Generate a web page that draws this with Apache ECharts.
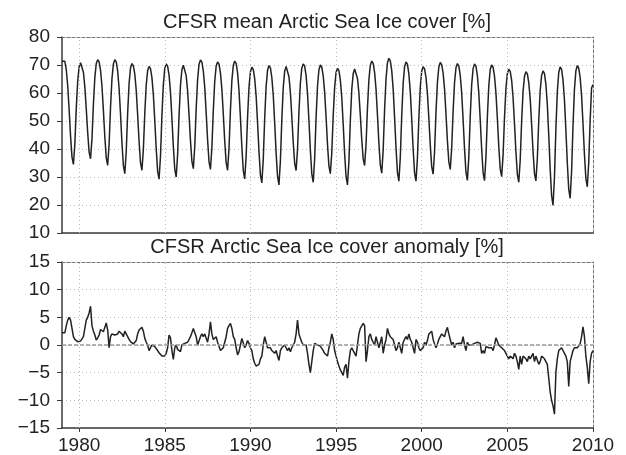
<!DOCTYPE html>
<html>
<head>
<meta charset="utf-8">
<script src="https://cdn.jsdelivr.net/npm/echarts@6/dist/echarts.min.js"></script>
<style>
html,body{margin:0;padding:0;background:#fff;}
#chart{width:626px;height:455px;}
</style>
</head>
<body>
<div id="chart"></div>
<script>
// ---------------- DATA ----------------
const startYear = 1979; // first month = Jan 1979, monthly steps
const topTitle = 'CFSR mean Arctic Sea Ice cover [%]';
const bottomTitle = 'CFSR Arctic Sea Ice cover anomaly [%]';
const xTickLabels = [1980, 1985, 1990, 1995, 2000, 2005, 2010];
const topYTicks = [10, 20, 30, 40, 50, 60, 70, 80];
const bottomYTicks = [-15, -10, -5, 0, 5, 10, 15];

// monthly mean Arctic sea ice cover [%] (Jan 1979 .. Jan 2010)
const iceCover = [
  71.3, 72.0, 71.3, 68.3, 62.6, 54.0, 44.6, 37.1, 34.5, 41.8, 54.5, 64.3, // 1979
  69.3, 70.8, 70.1, 67.4, 62.2, 54.3, 45.8, 38.9, 36.5, 43.6, 56.0, 65.5, // 1980
  70.5, 71.9, 71.1, 68.1, 62.5, 53.8, 44.4, 36.8, 34.2, 41.7, 54.9, 65.1, // 1981
  70.4, 71.9, 71.1, 67.8, 61.7, 52.4, 42.2, 34.1, 31.2, 39.1, 52.8, 63.4, // 1982
  68.9, 70.5, 69.7, 66.7, 61.0, 52.2, 42.7, 35.1, 32.4, 39.8, 52.8, 62.8, // 1983
  68.0, 69.5, 68.7, 65.5, 59.4, 50.2, 40.1, 32.0, 29.2, 37.4, 51.9, 63.0, // 1984
  68.8, 70.4, 69.6, 66.4, 60.3, 51.0, 40.9, 32.8, 30.0, 38.0, 52.0, 62.7, // 1985
  68.3, 69.9, 69.2, 66.2, 60.7, 52.2, 43.0, 35.6, 33.0, 40.8, 54.3, 64.8, // 1986
  70.3, 71.8, 71.0, 67.9, 62.0, 53.0, 43.3, 35.4, 32.7, 40.4, 53.8, 64.2, // 1987
  69.6, 71.1, 70.3, 67.2, 61.4, 52.5, 42.9, 35.1, 32.4, 40.2, 53.9, 64.4, // 1988
  69.8, 71.4, 70.6, 67.2, 60.9, 51.2, 40.7, 32.3, 29.3, 37.3, 51.3, 62.0, // 1989
  67.6, 69.2, 68.4, 65.1, 58.9, 49.4, 39.1, 30.8, 27.9, 36.3, 51.0, 62.3, // 1990
  68.1, 69.8, 69.0, 65.5, 59.2, 49.4, 38.7, 30.2, 27.2, 35.7, 50.5, 61.9, // 1991
  67.8, 69.5, 68.8, 65.8, 60.2, 51.6, 42.3, 34.9, 32.3, 39.9, 53.3, 63.5, // 1992
  68.9, 70.4, 69.6, 66.2, 59.8, 50.1, 39.5, 31.1, 28.1, 36.5, 51.2, 62.5, // 1993
  68.3, 70.0, 69.2, 66.1, 60.3, 51.4, 41.7, 33.9, 31.2, 38.7, 51.9, 62.0, // 1994
  67.3, 68.8, 68.0, 64.6, 58.4, 48.8, 38.4, 30.1, 27.2, 35.5, 50.0, 61.2, // 1995
  66.9, 68.6, 67.9, 65.2, 60.0, 52.0, 43.4, 36.5, 34.1, 41.6, 54.6, 64.7, // 1996
  69.9, 71.4, 70.6, 67.4, 61.4, 52.2, 42.2, 34.2, 31.4, 39.6, 54.0, 65.0, // 1997
  70.8, 72.4, 71.5, 68.0, 61.4, 51.3, 40.4, 31.6, 28.5, 37.0, 51.9, 63.4, // 1998
  69.4, 71.1, 70.3, 66.8, 60.5, 50.7, 40.0, 31.5, 28.5, 36.7, 51.0, 62.0, // 1999
  67.8, 69.4, 68.6, 65.6, 59.8, 51.0, 41.4, 33.7, 31.0, 39.0, 53.0, 63.7, // 2000
  69.3, 70.9, 70.1, 67.1, 61.4, 52.6, 43.0, 35.4, 32.7, 40.3, 53.5, 63.7, // 2001
  69.0, 70.5, 69.7, 66.3, 60.1, 50.5, 40.1, 31.7, 28.8, 37.1, 51.7, 62.9, // 2002
  68.7, 70.4, 69.6, 66.2, 60.0, 50.4, 40.0, 31.6, 28.7, 37.0, 51.4, 62.6, // 2003
  68.4, 70.0, 69.2, 66.0, 60.0, 50.9, 40.9, 32.9, 30.1, 37.8, 51.2, 61.6, // 2004
  67.0, 68.5, 67.7, 64.5, 58.4, 49.1, 39.0, 30.9, 28.1, 36.0, 49.8, 60.5, // 2005
  66.0, 67.6, 66.8, 63.7, 57.9, 48.9, 39.1, 31.3, 28.6, 36.5, 50.2, 60.8, // 2006
  66.3, 67.9, 66.9, 63.1, 55.9, 44.9, 32.9, 23.3, 19.9, 29.8, 47.1, 60.4, // 2007
  67.3, 69.3, 68.4, 64.6, 57.6, 46.8, 35.1, 25.7, 22.4, 31.9, 48.5, 61.3, // 2008
  67.9, 69.8, 68.9, 65.5, 59.0, 49.0, 38.2, 29.5, 26.5, 35.1, 50.2, 61.8, // 2009
  63.0                                                                    // 2010
];

// monthly sea ice cover anomaly [%] (Jan 1979 .. Jan 2010)
const iceAnomaly = [
  2.2, 2.0, 2.2, 3.5, 4.5, 5.0, 4.5, 3.0, 1.5, 1.0, 0.8, 0.6,            // 1979
  0.5, 0.7, 1.0, 1.5, 3.0, 4.5, 5.0, 5.8, 7.0, 3.5, 2.5, 1.8,            // 1980
  0.9, 1.3, 1.8, 2.8, 2.6, 2.4, 2.5, 4.0, 2.7, -0.5, 1.5, 2.0,           // 1981
  2.0, 1.8, 1.5, 2.0, 2.5, 2.7, 2.0, 1.5, 2.5, 2.3, 1.5, 1.0,            // 1982
  0.6, 0.4, 0.2, 0.3, 0.8, 2.0, 2.7, 2.5, 3.2, 2.5, 1.2, 0.5,            // 1983
  0.0, -1.0, -0.5, 0.0, 0.3, -0.3, -0.5, -1.0, -1.4, -1.7, -2.0, -2.2,   // 1984
  -2.0, -1.5, -0.5, 1.8, 1.3, -1.0, -2.6, -0.5, 0.0, -0.8, -1.0, -1.2,   // 1985
  0.0, 0.0, 0.3, 0.2, 0.5, 0.8, 1.5, 2.2, 3.0, 3.2, 1.5, 0.0,            // 1986
  0.2, 1.5, 2.0, 1.5, 2.0, 1.8, 0.5, 2.0, 4.2, 2.0, 1.0, 0.8,            // 1987
  1.5, 0.5, 0.2, -1.0, -0.8, -0.5, 0.5, 1.5, 3.0, 3.5, 3.9, 3.0,         // 1988
  1.5, 1.0, -0.5, -1.8, -1.2, 0.0, 1.2, 1.2, -0.5, 0.0, 0.8, 0.3,        // 1989
  -0.5, -1.0, -2.5, -3.3, -3.8, -3.8, -3.5, -2.5, -2.0, 0.0, 1.5, 0.5,   // 1990
  -0.5, -0.5, -0.5, -1.0, -1.2, -1.5, -1.0, -2.0, -2.8, -1.0, -0.5, -0.5, // 1991
  0.0, -0.5, -1.0, -0.5, -1.2, -0.5, -0.5, 0.5, 2.0, 4.5, 2.0, 1.2,      // 1992
  0.5, 0.0, 0.2, 0.0, -1.5, -3.5, -5.0, -3.0, -1.0, 0.3, 0.1, 0.0,       // 1993
  0.0, -0.2, -0.5, -1.0, -1.5, -1.5, -2.0, -0.5, 0.5, 2.0, 1.0, -1.0,    // 1994
  -2.0, -3.0, -3.8, -4.5, -5.0, -5.5, -4.0, -3.5, -6.0, -3.0, -1.0, -0.5, // 1995
  -1.0, -1.5, -2.0, 0.0, 2.0, 3.0, 3.0, 3.9, 3.5, -3.0, -1.0, 1.5,       // 1996
  2.0, 1.0, 0.5, 0.0, 1.5, 0.5, -0.5, 0.5, 1.5, -1.5, 0.0, 1.0,          // 1997
  3.0, 2.0, 1.5, 1.2, 1.0, 0.0, -1.0, -0.5, 0.5, -0.5, -1.5, 0.5,        // 1998
  1.0, 1.5, 1.0, 2.0, 1.0, 0.5, -0.5, -1.5, 1.0, 0.5, -0.5, -1.0,        // 1999
  -1.0, -0.5, 0.5, 0.0, 0.8, 2.0, 2.2, 2.5, 1.0, 0.2, -0.5, 0.2,         // 2000
  1.0, 1.5, 2.0, 1.8, 1.5, 2.5, 3.2, 2.0, 1.0, 0.0, 0.5, -0.5,           // 2001
  0.2, 0.5, 0.3, 0.0, 0.3, 1.5, 0.0, -1.0, 0.5, 0.0, 0.0, 0.0,           // 2002
  0.2, 0.3, 0.5, 0.5, 0.4, 0.3, -1.5, -1.0, -1.5, -0.3, -0.5, -0.5,      // 2003
  -0.5, -0.5, -1.0, 0.0, 1.3, 1.0, 0.0, -0.3, -0.5, -0.5, -1.0, -1.5,    // 2004
  -1.5, -2.5, -2.0, -2.2, -2.5, -1.5, -2.0, -3.0, -4.4, -2.0, -3.5, -2.0, // 2005
  -2.0, -2.5, -3.0, -2.0, -2.5, -2.0, -1.5, -3.0, -2.0, -2.3, -3.5, -3.0, // 2006
  -2.0, -2.0, -2.5, -2.5, -3.5, -6.0, -8.5, -10.0, -11.0, -12.5, -5.0, -2.5, // 2007
  -1.0, -0.8, -0.5, -0.3, -1.5, -2.0, -3.0, -7.5, -3.0, -2.0, -1.0, -0.5, // 2008
  -0.5, -0.5, -0.5, 0.2, 1.5, 3.3, 1.5, -2.0, -4.0, -7.0, -3.0, -1.5,    // 2009
  -1.0                                                                    // 2010
];

// ---------------- CHART ----------------
const FONT = 'Liberation Sans';
const toPairs = arr => arr.map((v, i) => [startYear + i / 12, v]);
const minusFmt = v => (v < 0 ? '\u2212' + Math.abs(v) : String(v));
const xMin = startYear, xMax = xTickLabels[xTickLabels.length - 1];

const axisDark = { color: '#3a3a3a', width: 1.5 };
const borderDash = { color: '#777', width: 1, type: [3, 2] };
const dotted = { color: '#b8b8b8', width: 1, type: [1, 3] };

function xAxes(grid, labels) {
  return [
    {
      gridIndex: grid, type: 'value', min: xMin, max: xMax, interval: 1,
      axisLine: { show: true, onZero: false, lineStyle: axisDark },
      axisTick: labels ? { show: true, length: 4, customValues: xTickLabels, lineStyle: { color: '#3a3a3a' } } : { show: false },
      axisLabel: labels ? { show: true, customValues: xTickLabels, fontFamily: FONT, fontSize: 19, color: '#222', margin: 8,
        formatter: v => String(Math.round(v)) } : { show: false },
      splitLine: { show: false }
    },
    {
      gridIndex: grid, type: 'value', position: 'top', min: xMin, max: xMax,
      axisLine: { show: true, onZero: false, lineStyle: borderDash },
      axisTick: { show: false }, axisLabel: { show: false }, splitLine: { show: false }
    }
  ];
}
function yAxes(grid, ticks) {
  const mn = ticks[0], mx = ticks[ticks.length - 1], step = ticks[1] - ticks[0];
  return [
    {
      gridIndex: grid, type: 'value', min: mn, max: mx, interval: step,
      axisLine: { show: true, onZero: false, lineStyle: axisDark },
      axisTick: { show: true, length: 5, lineStyle: { color: '#3a3a3a' } },
      axisLabel: { fontFamily: FONT, fontSize: 19, color: '#222', margin: 12, formatter: minusFmt },
      splitLine: { show: true, lineStyle: dotted }
    },
    {
      gridIndex: grid, type: 'value', position: 'right', min: mn, max: mx, interval: step,
      axisLine: { show: true, onZero: false, lineStyle: borderDash },
      axisTick: { show: false }, axisLabel: { show: false }, splitLine: { show: false }
    }
  ];
}

const vLines = xTickLabels.filter(v => v < xMax).map(v => ({ xAxis: v }));

const option = {
  animation: false,
  backgroundColor: '#fff',
  grid: [
    { left: 62, right: 33, top: 37, height: 196 },
    { left: 62, right: 33, top: 262, height: 166 }
  ],
  xAxis: [...xAxes(0, false), ...xAxes(1, true)],
  yAxis: [...yAxes(0, topYTicks), ...yAxes(1, bottomYTicks)],
  graphic: [
    { type: 'text', x: 327, y: 22, silent: true,
      style: { text: topTitle, font: '20px "' + FONT + '"', fill: '#222', align: 'center', verticalAlign: 'middle', textAlign: 'center', textVerticalAlign: 'middle' } },
    { type: 'text', x: 327, y: 247, silent: true,
      style: { text: bottomTitle, font: '20px "' + FONT + '"', fill: '#222', align: 'center', verticalAlign: 'middle', textAlign: 'center', textVerticalAlign: 'middle' } }
  ],
  series: [
    { type: 'line', xAxisIndex: 0, yAxisIndex: 0, data: [], z: 1, silent: true,
      markLine: { silent: true, symbol: ['none', 'none'], label: { show: false }, animation: false,
        lineStyle: dotted, data: vLines } },
    { type: 'line', xAxisIndex: 0, yAxisIndex: 0, data: toPairs(iceCover), symbol: 'none', z: 3,
      lineStyle: { color: '#222', width: 1.5 } },
    { type: 'line', xAxisIndex: 2, yAxisIndex: 2, data: [], z: 1, silent: true,
      markLine: { silent: true, symbol: ['none', 'none'], label: { show: false }, animation: false,
        lineStyle: dotted,
        data: vLines.concat([{ yAxis: 0, lineStyle: { color: '#9a9a9a', width: 1.5, type: [4, 2] } }]) } },
    { type: 'line', xAxisIndex: 2, yAxisIndex: 2, data: toPairs(iceAnomaly), symbol: 'none', z: 3,
      lineStyle: { color: '#222', width: 1.5 } }
  ]
};

const chart = echarts.init(document.getElementById('chart'), null, { renderer: 'canvas' });
chart.setOption(option);
</script>
</body>
</html>
